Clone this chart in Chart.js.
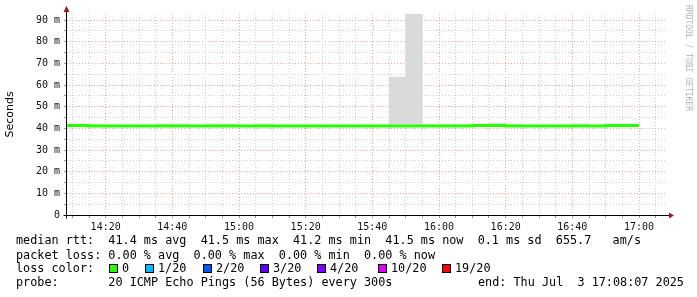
<!DOCTYPE html>
<html>
<head>
<meta charset="utf-8">
<script src="https://cdn.jsdelivr.net/npm/chart.js@4.4.1/dist/chart.umd.min.js"></script>
<style>
  html, body { margin: 0; padding: 0; background: #fff; }
  #wrap { width: 697px; height: 297px; }
</style>
</head>
<body>
<div id="wrap"><canvas id="smoke" width="697" height="297"></canvas></div>
<script>
// 5 minute steps (start of each step)
const stepStarts = ['14:05', '14:10', '14:15', '14:20', '14:25', '14:30', '14:35', '14:40', '14:45', '14:50',
                    '14:55', '15:00', '15:05', '15:10', '15:15', '15:20', '15:25', '15:30', '15:35', '15:40',
                    '15:45', '15:50', '15:55', '16:00', '16:05', '16:10', '16:15', '16:20', '16:25', '16:30',
                    '16:35', '16:40', '16:45', '16:50', '16:55'];
const dataEnd = '17:00';

// median rtt in ms
const medianRtt = [41.1, 41.35, 41.35, 41.1, 41.1, 41.1, 41.1, 41.1, 41.1, 41.1,
                   41.1, 41.1, 41.1, 41.1, 41.1, 41.1, 41.1, 41.1, 41.1, 41.1,
                   41.1, 41.1, 41.1, 41.1, 41.1, 41.1, 41.35, 41.35, 41.1, 41.1,
                   41.1, 41.1, 41.1, 41.1, 41.35];

// smoke band (min / max of the pings) in ms
const smokeLow = [40.8, 40.9, 40.9, 40.8, 40.8, 40.8, 40.8, 40.8, 40.8, 40.8,
                  40.8, 40.8, 40.8, 40.8, 40.8, 40.8, 40.8, 40.8, 40.8, 40.8,
                  40.9, 40.9, 40.8, 40.8, 40.8, 40.8, 40.9, 40.9, 40.8, 40.8,
                  40.8, 40.8, 40.8, 40.8, 40.9];
const smokeHigh = [41.5, 41.8, 41.8, 41.5, 41.5, 41.5, 42.1, 42.1, 41.5, 42.1,
                   42.1, 41.5, 42.1, 41.5, 41.5, 41.5, 41.5, 41.5, 41.5, 41.5,
                   63.7, 95.0, 41.8, 41.8, 41.8, 41.8, 42.5, 41.9, 41.5, 41.5,
                   41.5, 42.1, 41.5, 42.1, 41.9];

const xTickLabels = ['14:20', '14:40', '15:00', '15:20', '15:40', '16:00', '16:20', '16:40', '17:00'];
const yTickValues = [0, 10, 20, 30, 40, 50, 60, 70, 80, 90];
const yTickLabels = ['0', '10 m', '20 m', '30 m', '40 m', '50 m', '60 m', '70 m', '80 m', '90 m'];

const lossLabels = ['0', '1/20', '2/20', '3/20', '4/20', '10/20', '19/20'];
const lossColors = ['#26ff00', '#00b8ff', '#0059ff', '#5e00ff', '#7e00ff', '#dd00ff', '#ff0000'];

const rttLine = 'median rtt:  41.4 ms avg  41.5 ms max  41.2 ms min  41.5 ms now  0.1 ms sd  655.7   am/s';
const lossLine = 'packet loss: 0.00 % avg  0.00 % max  0.00 % min  0.00 % now';
const probeLine = 'probe:       20 ICMP Echo Pings (56 Bytes) every 300s';
const endLine = 'end: Thu Jul  3 17:08:07 2025';

// minutes after 14:00
const toMinutes = t => {
    const [h, m] = t.split(':').map(Number);
    return (h - 14) * 60 + m;
};
const fromMinutes = v => {
    const h = 14 + Math.floor(v / 60);
    const m = Math.round(v % 60);
    return `${h}:${String(m).padStart(2, '0')}`;
};

const medianPoints = stepStarts.map((t, i) => ({ x: toMinutes(t), y: medianRtt[i] }));
medianPoints.push({ x: toMinutes(dataEnd), y: medianRtt[medianRtt.length - 1] });
const smokePoints = stepStarts.map((t, i) => ({ x: toMinutes(t) + 2.5, y: [smokeLow[i], smokeHigh[i]] }));

const MONO = '"DejaVu Sans Mono", monospace';
const gridMajor = '#eaa4a4';
const gridMinor = '#cdcdcd';

const decor = {
    id: 'decor',
    afterDraw(chart) {
        const ctx = chart.ctx;
        const { left, right, top, bottom } = chart.chartArea;
        const ax = Math.round(left) - 0.5;
        const ay = Math.round(bottom) + 0.5;
        ctx.save();

        // axes
        ctx.strokeStyle = '#000';
        ctx.lineWidth = 1;
        ctx.beginPath();
        ctx.moveTo(ax - 3, ay);
        ctx.lineTo(right + 3, ay);
        ctx.moveTo(ax, ay + 3);
        ctx.lineTo(ax, top - 4);
        ctx.stroke();

        // arrow heads
        ctx.fillStyle = '#9b1c1c';
        ctx.beginPath();
        ctx.moveTo(ax, top - 8);
        ctx.lineTo(ax - 3, top - 2);
        ctx.lineTo(ax + 3, top - 2);
        ctx.closePath();
        ctx.fill();
        ctx.beginPath();
        ctx.moveTo(right + 7, ay);
        ctx.lineTo(right + 2, ay - 3);
        ctx.lineTo(right + 2, ay + 3);
        ctx.closePath();
        ctx.fill();

        // watermark
        ctx.save();
        ctx.translate(688, 5);
        ctx.rotate(Math.PI / 2);
        ctx.font = '8px ' + MONO;
        ctx.fillStyle = '#b4b4b4';
        ctx.textBaseline = 'middle';
        ctx.fillText('RRDTOOL / TOBI OETIKER', 0, 0);
        ctx.restore();

        // legend
        ctx.font = '11.8px ' + MONO;
        ctx.fillStyle = '#000';
        ctx.textBaseline = 'middle';
        ctx.fillText(rttLine, 16, 241);
        ctx.fillText(lossLine, 16, 255.5);

        ctx.fillText('loss color:', 16, 269);
        const boxX = [109, 145, 203, 260, 317, 378, 442];
        lossLabels.forEach((s, i) => {
            ctx.fillStyle = lossColors[i];
            ctx.fillRect(boxX[i] + 0.5, 264.5, 8, 8);
            ctx.strokeStyle = '#000';
            ctx.strokeRect(boxX[i] + 0.5, 264.5, 8, 8);
            ctx.fillStyle = '#000';
            ctx.fillText(s, boxX[i] + 13, 269);
        });

        ctx.fillText(probeLine, 16, 283);
        ctx.fillText(endLine, 478, 283);
        ctx.restore();
    }
};

new Chart(document.getElementById('smoke'), {
    type: 'bar',
    data: {
        datasets: [{
            type: 'line',
            data: medianPoints,
            borderColor: '#26ff00',
            borderWidth: 3,
            stepped: 'after',
            pointRadius: 0,
            fill: false,
            order: 0
        }, {
            type: 'bar',
            data: smokePoints,
            backgroundColor: '#dadada',
            borderWidth: 0,
            barPercentage: 1,
            categoryPercentage: 1,
            order: 1
        }]
    },
    options: {
        responsive: false,
        animation: false,
        layout: { padding: { left: 0, right: 30, top: 14, bottom: 62 } },
        plugins: {
            legend: { display: false },
            tooltip: { enabled: false }
        },
        scales: {
            x: {
                type: 'linear',
                min: 8.4,
                max: 188.4,
                offset: false,
                afterBuildTicks: scale => {
                    const ticks = [];
                    for (let v = 10; v <= 185; v += 5) ticks.push({ value: v });
                    scale.ticks = ticks;
                },
                afterFit: scale => { scale.height = 20; },
                grid: {
                    offset: false,
                    color: c => xTickLabels.includes(fromMinutes(c.tick.value)) ? gridMajor : gridMinor,
                    tickLength: 3,
                    tickColor: '#999'
                },
                border: { display: false, dash: [1, 2] },
                ticks: {
                    autoSkip: false,
                    maxRotation: 0,
                    padding: 3,
                    color: '#111',
                    font: { family: MONO, size: 10 },
                    callback: v => {
                        const s = fromMinutes(v);
                        return xTickLabels.includes(s) ? s : '';
                    }
                }
            },
            y: {
                min: 0,
                max: 92.8,
                afterBuildTicks: scale => {
                    const ticks = [];
                    for (let v = 0; v <= 90; v += 5) ticks.push({ value: v });
                    scale.ticks = ticks;
                },
                afterFit: scale => { scale.width = 67; },
                title: {
                    display: true,
                    text: 'Seconds',
                    color: '#000',
                    font: { family: '"DejaVu Sans", sans-serif', size: 11 },
                    padding: { top: 4, bottom: 0 }
                },
                grid: {
                    color: c => c.tick.value % 10 === 0 ? gridMajor : gridMinor,
                    tickLength: 3,
                    tickColor: '#999'
                },
                border: { display: false, dash: [1, 2] },
                ticks: {
                    autoSkip: false,
                    padding: 4,
                    color: '#111',
                    font: { family: MONO, size: 10 },
                    callback: v => {
                        const i = yTickValues.indexOf(v);
                        return i >= 0 ? yTickLabels[i] : '';
                    }
                }
            }
        }
    },
    plugins: [decor]
});
</script>
</body>
</html>
